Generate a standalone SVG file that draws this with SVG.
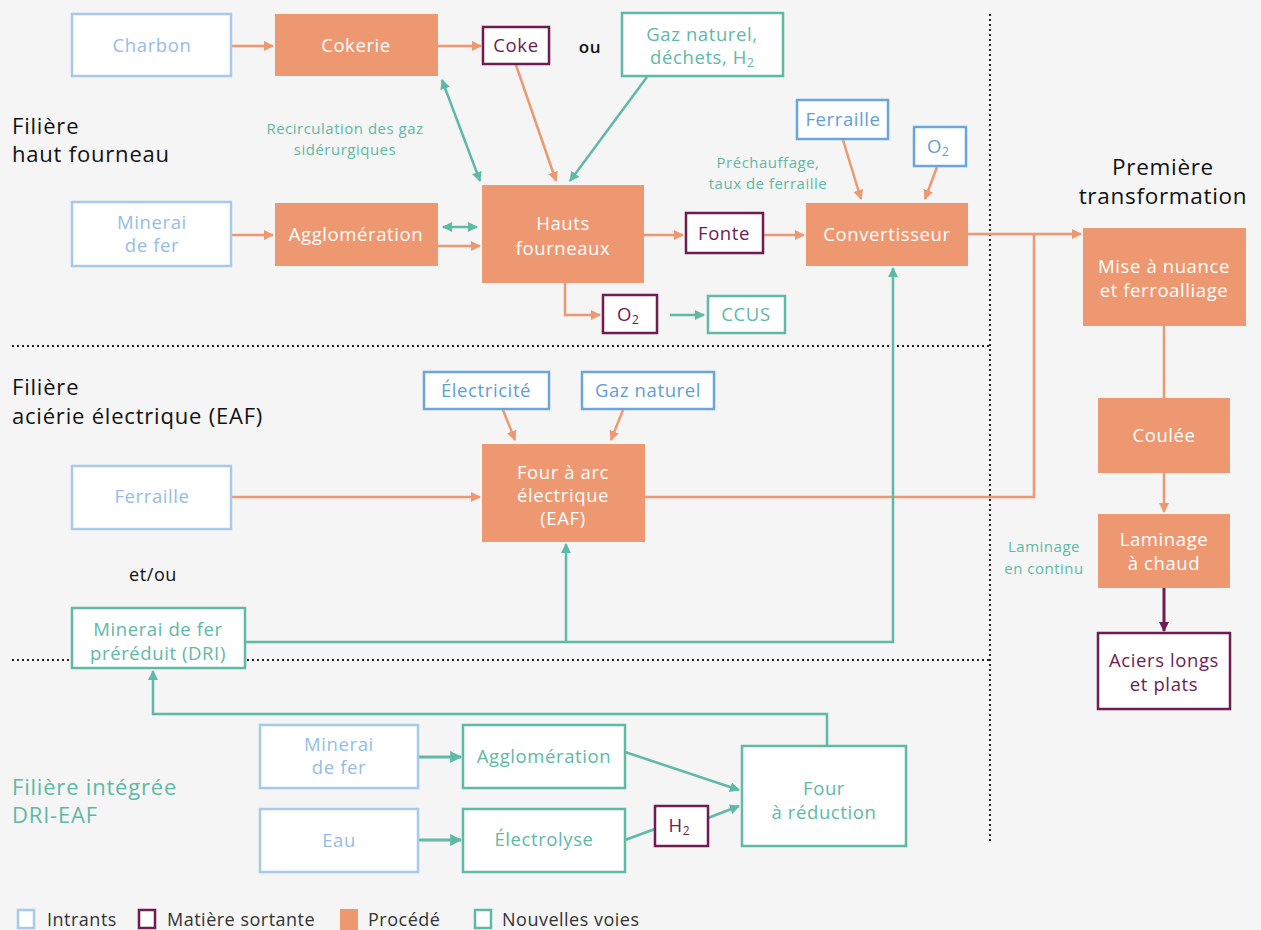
<svg xmlns="http://www.w3.org/2000/svg" width="1261" height="930" viewBox="0 0 1261 930">
<defs>
<style>
text{font-family:"Open Sans","Noto Sans",sans-serif;font-size:18.5px;letter-spacing:0.6px;text-anchor:middle}
.inb{fill:#fff;stroke:#a7c9eb;stroke-width:2.5}
.inb2{fill:#fff;stroke:#6aa6dc;stroke-width:2.5}
.out{fill:#fff;stroke:#6e1c52;stroke-width:2.5}
.pro{fill:#ee9872}
.nv{fill:#fff;stroke:#5eb9a5;stroke-width:2.5}
.tin{fill:#93bde7}
.tin2{fill:#5e9ed8}
.tout{fill:#6e1c52}
.tpro{fill:#fff}
.tnv{fill:#5eb9a5}
.tblk{fill:#111}
.lab{font-size:15px;letter-spacing:0.5px;fill:#5eb9a5}
.title{font-size:22px;letter-spacing:0.8px;text-anchor:start}
.sub{font-size:12px;letter-spacing:0}
.co{fill:none;stroke:#ee9872;stroke-width:2.5}
.cg{fill:none;stroke:#5eb9a5;stroke-width:2.5}
.cp{fill:none;stroke:#6e1c52;stroke-width:3}
.dot{fill:none;stroke:#222;stroke-width:2;stroke-dasharray:2 3}
.leg{font-size:18px;letter-spacing:0.5px;text-anchor:start;fill:#333}
</style>
<marker id="ao" viewBox="0 0 10 10" refX="9" refY="5" markerWidth="4" markerHeight="4" orient="auto-start-reverse" markerUnits="strokeWidth"><path d="M0,0L10,5L0,10z" fill="#ee9872"/></marker>
<marker id="ag" viewBox="0 0 10 10" refX="9" refY="5" markerWidth="4" markerHeight="4" orient="auto-start-reverse" markerUnits="strokeWidth"><path d="M0,0L10,5L0,10z" fill="#5eb9a5"/></marker>
<marker id="ap" viewBox="0 0 10 10" refX="9" refY="5" markerWidth="3.5" markerHeight="3.5" orient="auto-start-reverse" markerUnits="strokeWidth"><path d="M0,0L10,5L0,10z" fill="#6e1c52"/></marker>
</defs>
<rect width="1261" height="930" fill="#f5f5f5"/>

<g id="separators">
<path class="dot" d="M990,14V843"/>
<path class="dot" d="M12,346H990"/>
<path class="dot" d="M12,660H990"/>
</g>

<g id="titles">
<text class="title tblk" x="12" y="134">Filière</text>
<text class="title tblk" x="12" y="162">haut fourneau</text>
<text class="title tblk" x="12" y="395">Filière</text>
<text class="title tblk" x="12" y="424">aciérie électrique (EAF)</text>
<text class="title tnv" x="12" y="795">Filière intégrée</text>
<text class="title tnv" x="12" y="823">DRI-EAF</text>
<text class="tblk" x="1163" y="175" style="font-size:22.5px;letter-spacing:0.7px">Première</text>
<text class="tblk" x="1163" y="204" style="font-size:22.5px;letter-spacing:0.7px">transformation</text>
<text class="lab" x="345" y="134">Recirculation des gaz</text>
<text class="lab" x="345" y="155">sidérurgiques</text>
<text class="lab" x="768" y="168">Préchauffage,</text>
<text class="lab" x="768" y="189">taux de ferraille</text>
<text class="lab" x="1044" y="552">Laminage</text>
<text class="lab" x="1044" y="574">en continu</text>
<text class="tblk" x="590" y="53" style="font-size:17px;font-weight:600">ou</text>
<text class="tblk" x="153" y="581" style="font-size:18px">et/ou</text>
</g>

<g id="connectors">
<path class="co" d="M232,46H273" marker-end="url(#ao)"/>
<path class="co" d="M438,46H481" marker-end="url(#ao)"/>
<path class="co" d="M232,235H273" marker-end="url(#ao)"/>
<path class="cg" d="M442,80L480,181" marker-start="url(#ag)" marker-end="url(#ag)"/>
<path class="cg" d="M443,227H477" marker-start="url(#ag)" marker-end="url(#ag)"/>
<path class="co" d="M438,246H480" marker-end="url(#ao)"/>
<path class="co" d="M516,65L556,181" marker-end="url(#ao)"/>
<path class="cg" d="M647,77L570,181" marker-end="url(#ag)"/>
<path class="co" d="M565,283V315H600" marker-end="url(#ao)"/>
<path class="cg" d="M670,315H704" marker-end="url(#ag)"/>
<path class="co" d="M644,235H683" marker-end="url(#ao)"/>
<path class="co" d="M763,235H804" marker-end="url(#ao)"/>
<path class="co" d="M843,140L861,199" marker-end="url(#ao)"/>
<path class="co" d="M937,167L925,199" marker-end="url(#ao)"/>
<path class="co" d="M968,234H1081" marker-end="url(#ao)"/>
<path class="co" d="M645,497H1034V234"/>
<path class="co" d="M1164,326V398"/>
<path class="co" d="M1164,473V512" marker-end="url(#ao)"/>
<path class="cp" d="M1164,588V631" marker-end="url(#ap)"/>
<path class="co" d="M503,410L515,440" marker-end="url(#ao)"/>
<path class="co" d="M623,410L611,440" marker-end="url(#ao)"/>
<path class="co" d="M232,497H480" marker-end="url(#ao)"/>
<path class="cg" d="M245,642H893V268" marker-end="url(#ag)"/>
<path class="cg" d="M566,642V544" marker-end="url(#ag)"/>
<path class="cg" d="M827,746V714H153V671" marker-end="url(#ag)"/>
<path class="cg" d="M418,757H461" marker-end="url(#ag)" style="stroke-width:3"/>
<path class="cg" d="M418,840H461" marker-end="url(#ag)" style="stroke-width:3"/>
<path class="cg" d="M625,752L739,790" marker-end="url(#ag)"/>
<path class="cg" d="M625,840L655,829"/>
<path class="cg" d="M708,818L739,806" marker-end="url(#ag)"/>
</g>

<g id="n-charbon"><rect class="inb" x="72" y="14" width="159" height="62"/><text class="tin" x="152" y="52">Charbon</text></g>
<g id="n-cokerie"><rect class="pro" x="275" y="14" width="163" height="62"/><text class="tpro" x="356" y="52">Cokerie</text></g>
<g id="n-coke"><rect class="out" x="483" y="27" width="66" height="37"/><text class="tout" x="516" y="52">Coke</text></g>
<g id="n-gaz"><rect class="nv" x="622" y="13" width="161" height="63"/><text class="tnv" x="702" y="41">Gaz naturel,</text><text class="tnv" x="702" y="64">déchets, H<tspan class="sub" dy="3">2</tspan></text></g>
<g id="n-minerai1"><rect class="inb" x="72" y="202" width="159" height="64"/><text class="tin" x="152" y="229">Minerai</text><text class="tin" x="152" y="252">de fer</text></g>
<g id="n-agglo1"><rect class="pro" x="275" y="203" width="163" height="63"/><text class="tpro" x="356" y="241">Agglomération</text></g>
<g id="n-hf"><rect class="pro" x="482" y="185" width="162" height="98"/><text class="tpro" x="563" y="230">Hauts</text><text class="tpro" x="563" y="255">fourneaux</text></g>
<g id="n-o2out"><rect class="out" x="603" y="295" width="54" height="38"/><text class="tout" x="628" y="321">O<tspan class="sub" dy="3">2</tspan></text></g>
<g id="n-ccus"><rect class="nv" x="708" y="296" width="77" height="37"/><text class="tnv" x="746" y="321">CCUS</text></g>
<g id="n-fonte"><rect class="out" x="686" y="213" width="77" height="40"/><text class="tout" x="724" y="240">Fonte</text></g>
<g id="n-conv"><rect class="pro" x="806" y="203" width="162" height="63"/><text class="tpro" x="887" y="241">Convertisseur</text></g>
<g id="n-ferraille1"><rect class="inb2" x="797" y="100" width="91" height="39"/><text class="tin2" x="843" y="126">Ferraille</text></g>
<g id="n-o2in"><rect class="inb2" x="914" y="127" width="52" height="39"/><text class="tin2" x="938" y="153">O<tspan class="sub" dy="3">2</tspan></text></g>
<g id="n-mise"><rect class="pro" x="1083" y="228" width="163" height="98"/><text class="tpro" x="1164" y="273">Mise à nuance</text><text class="tpro" x="1164" y="297">et ferroalliage</text></g>
<g id="n-coulee"><rect class="pro" x="1098" y="398" width="132" height="75"/><text class="tpro" x="1164" y="442">Coulée</text></g>
<g id="n-laminage"><rect class="pro" x="1098" y="514" width="132" height="74"/><text class="tpro" x="1164" y="546">Laminage</text><text class="tpro" x="1164" y="570">à chaud</text></g>
<g id="n-aciers"><rect class="out" x="1098" y="633" width="132" height="76"/><text class="tout" x="1164" y="667">Aciers longs</text><text class="tout" x="1164" y="691">et plats</text></g>
<g id="n-elec"><rect class="inb2" x="424" y="372" width="125" height="37"/><text class="tin2" x="486" y="397">Électricité</text></g>
<g id="n-gaz2"><rect class="inb2" x="582" y="372" width="132" height="37"/><text class="tin2" x="648" y="397">Gaz naturel</text></g>
<g id="n-eaf"><rect class="pro" x="482" y="444" width="163" height="98"/><text class="tpro" x="563" y="479">Four à arc</text><text class="tpro" x="563" y="502">électrique</text><text class="tpro" x="563" y="525">(EAF)</text></g>
<g id="n-ferraille2"><rect class="inb" x="72" y="466" width="159" height="63"/><text class="tin" x="152" y="503">Ferraille</text></g>
<g id="n-dri"><rect class="nv" x="72" y="608" width="173" height="60"/><text class="tnv" x="158" y="636">Minerai de fer</text><text class="tnv" x="158" y="660">préréduit (DRI)</text></g>
<g id="n-minerai2"><rect class="inb" x="260" y="725" width="158" height="63"/><text class="tin" x="339" y="751">Minerai</text><text class="tin" x="339" y="774">de fer</text></g>
<g id="n-agglo2"><rect class="nv" x="463" y="725" width="162" height="63"/><text class="tnv" x="544" y="763">Agglomération</text></g>
<g id="n-eau"><rect class="inb" x="260" y="809" width="158" height="63"/><text class="tin" x="339" y="847">Eau</text></g>
<g id="n-electrolyse"><rect class="nv" x="463" y="809" width="162" height="63"/><text class="tnv" x="544" y="846">Électrolyse</text></g>
<g id="n-h2"><rect class="out" x="655" y="806" width="53" height="40"/><text class="tout" x="679" y="832">H<tspan class="sub" dy="3">2</tspan></text></g>
<g id="n-four"><rect class="nv" x="742" y="746" width="164" height="100"/><text class="tnv" x="824" y="795">Four</text><text class="tnv" x="824" y="819">à réduction</text></g>

<g id="legend">
<rect class="inb" x="18" y="910" width="16" height="18"/><text class="leg" x="47" y="926">Intrants</text>
<rect class="out" x="139" y="910" width="16" height="18"/><text class="leg" x="167" y="926">Matière sortante</text>
<rect class="pro" x="340" y="909" width="18" height="21"/><text class="leg" x="368" y="926">Procédé</text>
<rect class="nv" x="475" y="910" width="16" height="18"/><text class="leg" x="502" y="926">Nouvelles voies</text>
</g>
</svg>
